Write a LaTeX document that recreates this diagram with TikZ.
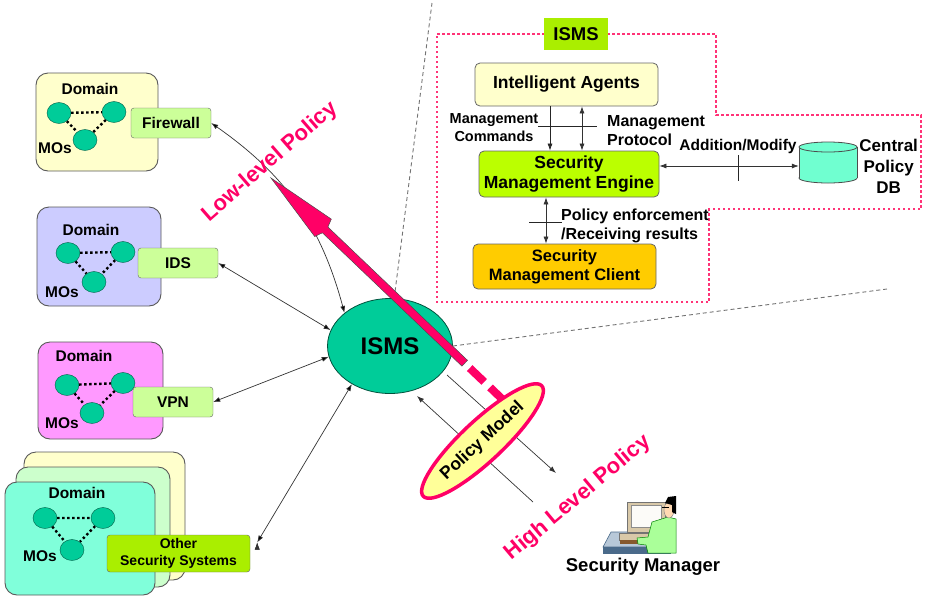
\documentclass[tikz,border=0pt]{standalone}
\usepackage{fontspec}
\setmainfont{Liberation Sans}
\usetikzlibrary{shapes.geometric, positioning, arrows.meta}

\definecolor{mogreen}{RGB}{0,204,153}
\definecolor{devgreen}{RGB}{204,255,153}
\definecolor{limegreen}{RGB}{170,238,0}
\definecolor{hotpink}{RGB}{255,0,102}
\definecolor{dotpink}{RGB}{255,51,119}
\definecolor{paleyellow}{RGB}{255,255,204}
\definecolor{lavender}{RGB}{204,204,255}
\definecolor{violetpink}{RGB}{255,153,255}
\definecolor{mintgreen}{RGB}{204,255,204}
\definecolor{aqua}{RGB}{128,255,218}
\definecolor{enginelime}{RGB}{187,255,0}
\definecolor{clientgold}{RGB}{255,204,0}
\definecolor{dbaqua}{RGB}{112,255,208}
\definecolor{pmyellow}{RGB}{255,255,153}
\definecolor{shirt}{RGB}{170,255,153}
\definecolor{desk}{RGB}{184,200,216}
\definecolor{deskfront}{RGB}{74,106,138}
\definecolor{beige}{RGB}{216,200,168}

\newcommand{\boldsize}[2]{\bfseries\fontsize{#1}{#2}\selectfont}

\begin{document}
\begin{tikzpicture}[x=1pt,y=-1pt,>={Latex[length=7pt,width=5pt]}]
  \tikzstyle{domainbox}=[draw=black!65, line width=0.9pt, rounded corners=12pt, inner sep=0pt]
  \tikzstyle{mo}=[ellipse, draw=black!55!mogreen, fill=mogreen, minimum width=24pt, minimum height=21pt, inner sep=0pt]
  \tikzstyle{moline}=[line width=2.4pt, dash pattern=on 2.4pt off 2.6pt]
  \tikzstyle{txt}=[inner sep=0pt, font=\boldsize{15.5}{18}]
  \tikzstyle{device}=[draw=black!60, rounded corners=3pt, fill=devgreen, minimum height=30pt, inner sep=0pt, font=\boldsize{15.5}{18}]
  \tikzstyle{module}=[draw=black!60, line width=0.8pt, rounded corners=5pt, inner sep=0pt, align=center, font=\boldsize{17.5}{20}]
  \tikzstyle{link}=[<->, draw=black!80, line width=0.7pt]
  \tikzstyle{guide}=[draw=black!55, line width=0.9pt, dash pattern=on 4pt off 3pt]

  \useasboundingbox (0,0) rectangle (927,598);

  % firewall domain
  \node[domainbox, fill=paleyellow, minimum width=122pt, minimum height=98pt] (dom1) at (97,122) {};
  \node[txt] (dom1t) at (90,89) {Domain};
  \node[mo] (mo1a) at (59,113) {};
  \node[mo] (mo1b) at (114,112) {};
  \node[mo] (mo1c) at (85,140) {};
  \draw[moline] (mo1a) -- (mo1b) (mo1a) -- (mo1c) (mo1b) -- (mo1c);
  \node[txt] (mos1) at (55,148) {MOs};
  \node[device, minimum width=80pt] (fw) at (171,123) {Firewall};

  % ids domain
  \node[domainbox, fill=lavender, minimum width=124pt, minimum height=99pt] (dom2) at (99,256.5) {};
  \node[txt] (dom2t) at (91,230) {Domain};
  \node[mo] (mo2a) at (68,253) {};
  \node[mo] (mo2b) at (123,252) {};
  \node[mo] (mo2c) at (94,282) {};
  \draw[moline] (mo2a) -- (mo2b) (mo2a) -- (mo2c) (mo2b) -- (mo2c);
  \node[txt] (mos2) at (62,292) {MOs};
  \node[device, minimum width=80pt] (ids) at (178,263) {IDS};

  % vpn domain
  \node[domainbox, fill=violetpink, minimum width=125pt, minimum height=97pt] (dom3) at (100.5,390.5) {};
  \node[txt] (dom3t) at (84,356) {Domain};
  \node[mo] (mo3a) at (67,385) {};
  \node[mo] (mo3b) at (123,383) {};
  \node[mo] (mo3c) at (92,413) {};
  \draw[moline] (mo3a) -- (mo3b) (mo3a) -- (mo3c) (mo3b) -- (mo3c);
  \node[txt] (mos3) at (62,423) {MOs};
  \node[device, minimum width=80pt] (vpn) at (173,402) {VPN};

  % stack of other domains
  \node[domainbox, fill=paleyellow, minimum width=161pt, minimum height=128pt] (dom4c) at (104.5,516) {};
  \node[domainbox, fill=mintgreen, minimum width=154pt, minimum height=120pt] (dom4b) at (93,527) {};
  \node[domainbox, fill=aqua, minimum width=150pt, minimum height=113pt] (dom4) at (80,538.5) {};
  \node[txt] (dom4t) at (77,493) {Domain};
  \node[mo] (mo4a) at (45,518) {};
  \node[mo] (mo4b) at (103,518) {};
  \node[mo] (mo4c) at (72,550) {};
  \draw[moline] (mo4a) -- (mo4b) (mo4a) -- (mo4c) (mo4b) -- (mo4c);
  \node[txt] (mos4) at (40,556) {MOs};
  \node[device, fill=limegreen, minimum width=143pt, minimum height=37pt, align=center, font=\boldsize{14}{17}] (other) at (178.5,553.5) {Other\\Security Systems};

  % central system
  \node[ellipse, draw=black!60!mogreen, line width=0.8pt, fill=mogreen, minimum width=125pt, minimum height=95pt, inner sep=0pt, font=\boldsize{24}{28}] (isms) at (390,346) {ISMS};

  \path[link]
    (fw.east) edge[bend left=20] (isms.144)
    (ids.east) edge (isms.165)
    (vpn.east) edge (isms.190)
    ([xshift=7pt,yshift=11pt]other.east) edge (isms.225);

  \draw[guide] (isms.85) -- (432,3);
  \draw[guide] (isms.east) -- (887,289);

  % inside the ISMS
  \draw[dotpink, line width=2.5pt, dash pattern=on 2.5pt off 2.5pt]
    (437,34) -- (716,34) -- (716,115) -- (921,115) -- (921,209) -- (709,209) -- (709,302) -- (437,302) -- cycle;
  \node[fill=limegreen, minimum width=64pt, minimum height=32pt, inner sep=0pt, font=\boldsize{18.5}{22}] (ismstag) at (576,34) {ISMS};

  \node[module, fill=paleyellow, minimum width=183pt, minimum height=43pt] (agents) at (566.5,84.5) {Intelligent Agents};
  \node[module, fill=enginelime, minimum width=180pt, minimum height=46pt] (engine) at (569,174) {Security\\Management Engine};
  \node[module, fill=clientgold, minimum width=183pt, minimum height=45pt, font=\boldsize{16.5}{19}] (client) at (564.5,266.5) {Security\\Management Client};

  % the policy database
  \node[minimum width=58pt, minimum height=41pt, inner sep=0pt] (db) at (828,162.5) {};
  \filldraw[fill=dbaqua, draw=black!70, line width=0.8pt] (828,178) ellipse (29 and 5);
  \fill[dbaqua] (799,147) rectangle (857,178);
  \draw[black!70, line width=0.8pt] (799,147) -- (799,178) (857,147) -- (857,178);
  \filldraw[fill=dbaqua, draw=black!70, line width=0.8pt] (828,147) ellipse (29 and 5);
  \node[txt, right=2pt of db, yshift=-4pt, align=center, font=\boldsize{17}{21}] (dbt) {Central\\Policy\\DB};

  \draw[black!85, line width=0.7pt, ->] ([xshift=-16.5pt]agents.south) -- ([xshift=-16.5pt]agents.south |- engine.north);
  \draw[link] ([xshift=15.5pt]agents.south) -- ([xshift=15.5pt]agents.south |- engine.north);
  \draw[black!85, line width=0.6pt] (538,126) -- (597,126);
  \node[txt, align=center, font=\boldsize{14.5}{18}] (cmdt) at (494,128) {Management\\Commands};
  \node[txt, anchor=west, align=left, font=\boldsize{16}{19}] (protot) at (607,131) {Management\\Protocol};

  \draw[link] (engine.east |- 0,166) -- ([yshift=-3.5pt]db.west);
  \draw[black!85, line width=0.6pt] (738,155) -- (738,181);
  \node[txt] (addt) at (738,146) {Addition/Modify};

  \draw[link] ([xshift=-23pt]engine.south) -- ([xshift=-23pt]engine.south |- client.north);
  \draw[black!85, line width=0.6pt] (529,222) -- (562,222);
  \node[txt, anchor=west, align=left, font=\boldsize{16}{19}] (enft) at (561,226) {Policy enforcement\\/Receiving results};

  % low level policy arrow
  \filldraw[fill=hotpink, draw=black!70, line width=0.5pt]
    (271,178) -- (331.3,219.1) -- (327.9,227.0) -- (467.5,360.3) -- (461.9,366.1)
    -- (322.4,232.8) -- (314.7,236.5) -- cycle;
  \draw[hotpink, line width=8pt] (469.7,368.1) -- (484.2,381.9) (490.0,387.4) -- (502.3,399.2);
  \node[txt, rotate=41, text=hotpink, font=\boldsize{22}{26}] (lowt) at (270,162) {Low-level Policy};

  % security manager at his desk
  \begin{scope}
    \filldraw[fill=desk, draw=deskfront, line width=0.6pt] (611,532) -- (672,532) -- (670,547) -- (603,547) -- cycle;
    \filldraw[fill=deskfront, draw=deskfront] (603,547) rectangle (670,553);
    \filldraw[fill=beige, draw=black!55, line width=0.6pt] (627,502) rectangle (665,532);
    \filldraw[fill=white!92!beige, draw=black!45, line width=0.5pt] (631,505) rectangle (661,527);
    \filldraw[fill=beige, draw=black!55, line width=0.5pt] (619,533) rectangle (660,540);
    \fill[brown!70!black] (620,540) rectangle (645,544);
    \filldraw[fill=shirt, draw=black!50!green, line width=0.5pt]
      (652,522) -- (668,517) -- (676,519) -- (676,553) -- (648,553) -- (646,545) -- (638,544) -- (637,538) -- (648,537) -- cycle;
    \filldraw[fill=orange!30!white, draw=black!50, line width=0.4pt] (669,510) ellipse (5 and 8);
    \fill[black] (665,503) -- (668,497) -- (676,496) -- (676,514) -- (672,512) -- (672,505) -- cycle;
    \draw[black, line width=1pt] (662,507) -- (669,507);
  \end{scope}
  \node[txt, font=\boldsize{18.5}{22}] (mgr) at (643,567) {Security Manager};

  \coordinate (ismsout) at (447,375);
  \coordinate (mgrin) at (556,473);
  \coordinate (mgrout) at (533,502);
  \coordinate (ismsin) at (417,396);
  \draw[black!80, line width=0.7pt, ->] (ismsout) -- (mgrin);
  \draw[black!80, line width=0.7pt, ->] (mgrout) -- (ismsin);

  \node[ellipse, draw=hotpink, line width=3.5pt, fill=pmyellow, minimum width=162pt, minimum height=41pt, inner sep=0pt, rotate=43, font=\boldsize{17.5}{20}] (pmodel) at (482.5,441) {Policy Model};
  \node[txt, rotate=40, text=hotpink, font=\boldsize{22}{26}] (hight) at (578,498) {High Level Policy};
\end{tikzpicture}
\end{document}
